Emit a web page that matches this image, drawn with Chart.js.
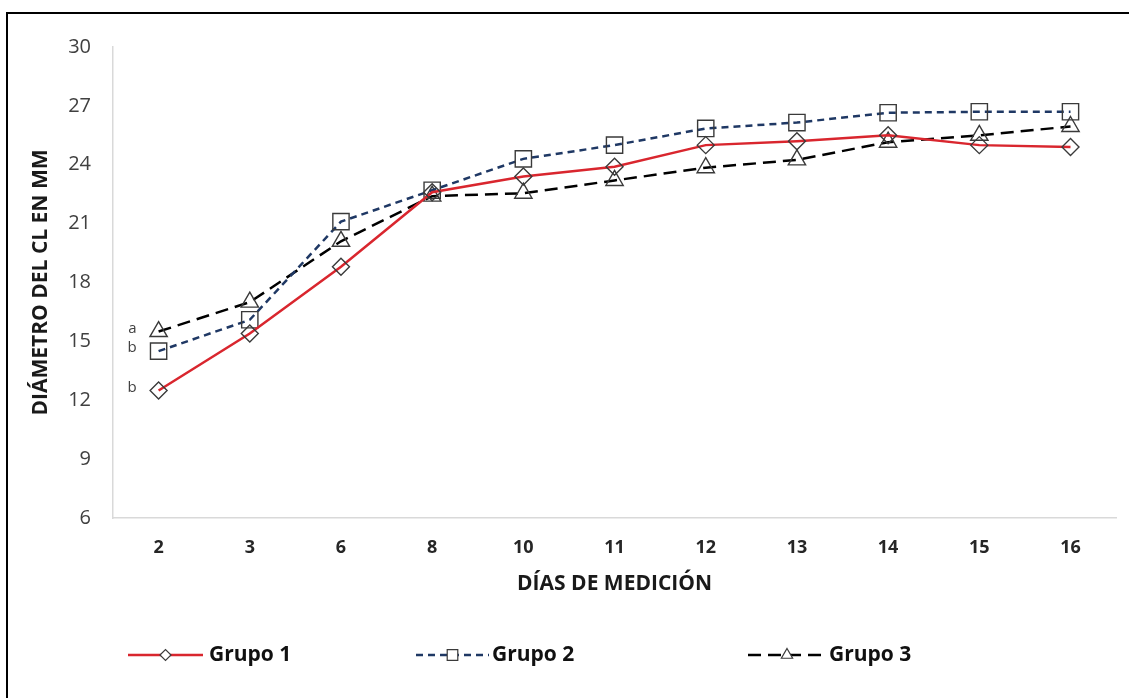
<!DOCTYPE html>
<html>
<head>
<meta charset="utf-8">
<script src="https://cdn.jsdelivr.net/npm/chart.js@4.4.1/dist/chart.umd.min.js"></script>
<style>
  html, body { margin: 0; padding: 0; background: #fff; }
  #wrap { position: relative; width: 1129px; height: 698px; overflow: hidden; }
  #frame { position: absolute; left: 6px; top: 12px; right: -10px; bottom: -10px;
           border-left: 2px solid #000; border-top: 2px solid #000; pointer-events: none; }
  canvas { position: absolute; left: 0; top: 0; }
</style>
</head>
<body>
<div id="wrap">
  <canvas id="c" width="1129" height="698"></canvas>
  <div id="frame"></div>
</div>
<script>
const categories = ['2', '3', '6', '8', '10', '11', '12', '13', '14', '15', '16'];
const grupo1 = [12.5, 15.4, 18.8, 22.6, 23.4, 23.9, 25.0, 25.2, 25.5, 25.0, 24.9];
const grupo2 = [14.5, 16.1, 21.1, 22.7, 24.3, 25.0, 25.85, 26.15, 26.65, 26.7, 26.7];
const grupo3 = [15.5, 17.0, 20.1, 22.4, 22.55, 23.2, 23.85, 24.25, 25.15, 25.5, 25.95];
const seriesNames = ['Grupo 1', 'Grupo 2', 'Grupo 3'];
const firstPointLetters = ['b', 'b', 'a'];
const yTicks = [6, 9, 12, 15, 18, 21, 24, 27, 30];
const yTitle = 'DIÁMETRO DEL CL EN MM';
const xTitle = 'DÍAS DE MEDICIÓN';

const FONT = "'Open Sans', 'DejaVu Sans', sans-serif";

const letterPlugin = {
  id: 'letters',
  afterDatasetsDraw(chart) {
    const ctx = chart.ctx;
    ctx.save();
    ctx.font = "15px " + FONT;
    ctx.fillStyle = '#404040';
    ctx.textAlign = 'right';
    ctx.textBaseline = 'middle';
    chart.data.datasets.forEach((ds, i) => {
      const p = chart.getDatasetMeta(i).data[0];
      ctx.fillText(firstPointLetters[i], p.x - 22, p.y - 3);
    });
    ctx.restore();
  }
};

const legendPlugin = {
  id: 'customLegend',
  afterDraw(chart) {
    const ctx = chart.ctx;
    const y = 655;
    const items = [
      { x0: 128, x1: 203, tx: 209 },
      { x0: 416, x1: 489, tx: 492 },
      { x0: 748, x1: 826, tx: 829 }
    ];
    chart.data.datasets.forEach((ds, i) => {
      const it = items[i];
      ctx.save();
      ctx.strokeStyle = ds.borderColor;
      ctx.lineWidth = ds.borderWidth;
      ctx.setLineDash(ds.borderDash || []);
      ctx.beginPath();
      ctx.moveTo(it.x0, y);
      ctx.lineTo(it.x1, y);
      ctx.stroke();
      ctx.setLineDash([]);
      ctx.strokeStyle = '#3a3a3a';
      ctx.fillStyle = '#ffffff';
      ctx.lineWidth = 1.2;
      Chart.helpers.drawPoint(ctx, {
        pointStyle: ds.pointStyle,
        radius: ds.pointRadius * 0.65,
        rotation: 0,
        borderWidth: 1.2
      }, (it.x0 + it.x1) / 2, y);
      ctx.restore();
      ctx.save();
      ctx.fillStyle = '#111';
      ctx.font = "bold 21px " + FONT;
      ctx.textBaseline = 'middle';
      ctx.textAlign = 'left';
      ctx.fillText(seriesNames[i], it.tx, y);
      ctx.restore();
    });
  }
};

function mkDataset(label, data, color, dash, style, radius) {
  return {
    label, data,
    borderColor: color,
    borderWidth: 2.5,
    borderDash: dash,
    pointStyle: style,
    pointRadius: radius,
    pointHoverRadius: radius,
    pointBorderColor: '#3a3a3a',
    pointBackgroundColor: 'rgba(255,255,255,0)',
    pointBorderWidth: 1.4,
    tension: 0,
    fill: false
  };
}

const chart = new Chart(document.getElementById('c'), {
  type: 'line',
  data: {
    labels: categories,
    datasets: [
      mkDataset(seriesNames[0], grupo1, '#d9262e', [], 'rectRot', 8.5),
      mkDataset(seriesNames[1], grupo2, '#1f3864', [7, 5], 'rect', 11.5),
      mkDataset(seriesNames[2], grupo3, '#000000', [13, 7], 'triangle', 10)
    ]
  },
  options: {
    responsive: false,
    animation: false,
    devicePixelRatio: 1,
    layout: { padding: { left: 0, right: 8, top: 47, bottom: 100 } },
    plugins: { legend: { display: false }, tooltip: { enabled: false } },
    scales: {
      x: {
        offset: true,
        grid: { display: false, drawTicks: false, offset: true },
        border: { display: true, color: '#d9d9d9', width: 1.5 },
        ticks: { color: '#262626', font: { family: FONT, size: 18, weight: 'bold' }, padding: 19, maxRotation: 0 },
        title: { display: true, text: xTitle, color: '#1a1a1a', font: { family: FONT, size: 21, weight: 'bold' }, padding: { top: 0, bottom: 1 } },
        afterFit(s) { s.height = 80; }
      },
      y: {
        min: 6, max: 30,
        afterBuildTicks(s) { s.ticks = yTicks.map(v => ({ value: v })); },
        grid: { display: false, drawTicks: false },
        border: { display: true, color: '#d9d9d9', width: 1.5 },
        ticks: { color: '#404040', font: { family: FONT, size: 20 }, padding: 22 },
        title: { display: true, text: yTitle, color: '#1a1a1a', font: { family: FONT, size: 21, weight: 'bold' }, padding: { top: 28, bottom: 0 } },
        afterFit(s) { s.width = 113; }
      }
    }
  },
  plugins: [letterPlugin, legendPlugin]
});
</script>
</body>
</html>
